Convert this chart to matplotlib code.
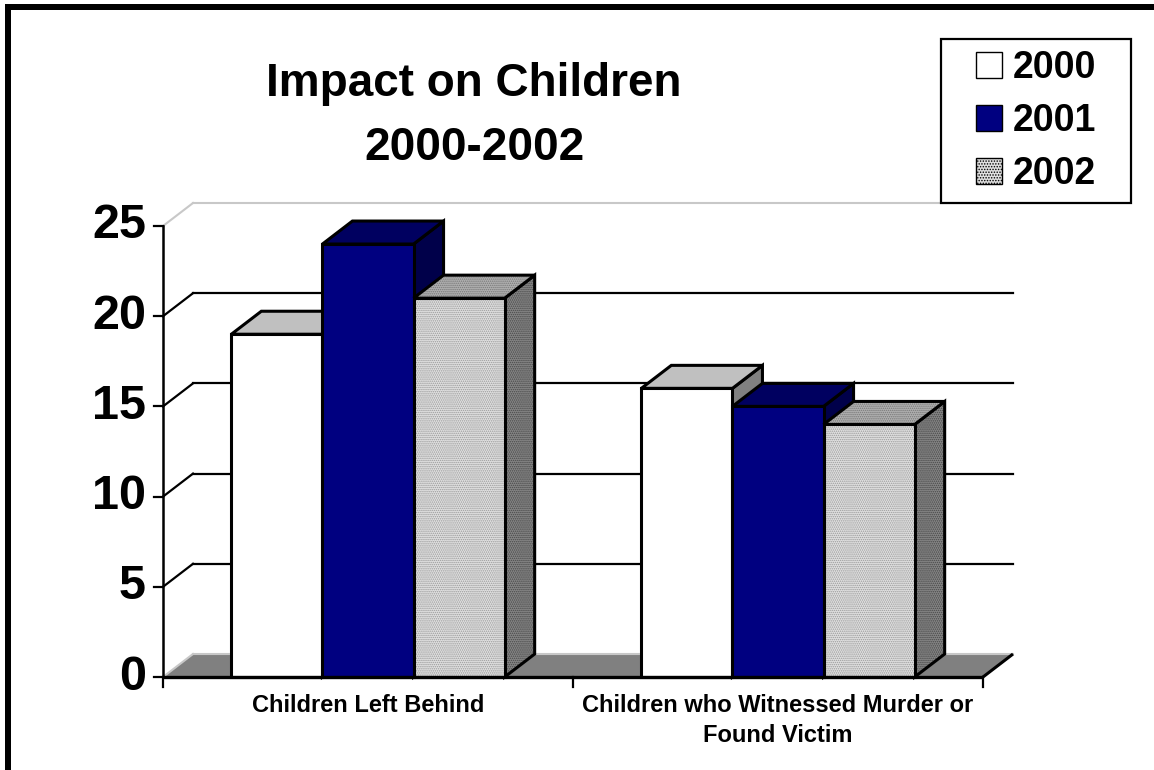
import matplotlib
matplotlib.use('Agg')
import matplotlib.pyplot as plt
from matplotlib.patches import Polygon, Rectangle, Patch

# ---------------- data ----------------
categories = ["Children Left Behind", "Children who Witnessed Murder or\nFound Victim"]
series_names = ["2000", "2001", "2002"]
values_2000 = [19, 16]
values_2001 = [24, 15]
values_2002 = [21, 14]
y_ticks = [0, 5, 10, 15, 20, 25]
title = "Impact on Children\n2000-2002"

series_values = [values_2000, values_2001, values_2002]

# ---------------- style ----------------
FONT = ['Liberation Sans', 'DejaVu Sans']
plt.rcParams['font.family'] = FONT
plt.rcParams['hatch.linewidth'] = 0.7

styles = [
    dict(front='#FFFFFF', top='#C0C0C0', side='#808080', hatch=None),
    dict(front='#000080', top='#000060', side='#00004A', hatch=None),
    dict(front='#E0E0E0', top='#B0B0B0', side='#858585', hatch='........',
         hfront='#9A9A9A', htop='#787878', hside='#484848'),
]

W, H = 1154, 770
fig = plt.figure(figsize=(W / 100, H / 100), dpi=100)

ax = fig.add_axes([163 / W, 93 / H, 850 / W, 474 / H])
ax.set_axis_off()
ymax = y_ticks[-1]
px_per_unit = 451 / ymax
DX = 30 / 410            # depth offset in category units
DY = 23 / px_per_unit    # depth offset in value units
x0, x1 = -0.5, len(categories) - 0.5
ax.set_xlim(x0, x1 + DX)
ax.set_ylim(0, ymax + DY)

EDGE = 2.2

# floor
ax.add_patch(Polygon([(x0, 0), (x1, 0), (x1 + DX, DY), (x0 + DX, DY)], closed=True,
                     fc='#808080', ec='none', zorder=1, clip_on=False))
ax.plot([x0 + DX, x1 + DX], [DY, DY], color='#C8C8C8', lw=1.5, zorder=1.2, clip_on=False)
ax.plot([x0, x0 + DX], [0, DY], color='#C8C8C8', lw=1.5, zorder=1.2, clip_on=False)
ax.plot([x1, x1 + DX], [0, DY], color='black', lw=EDGE, zorder=1.2, clip_on=False,
        solid_capstyle='butt')

# back wall gridlines + side wall diagonals
for t in y_ticks[1:]:
    c = '#C8C8C8' if t == ymax else 'black'
    lw = 1.5 if t == ymax else 1.6
    ax.plot([x0 + DX, x1 + DX], [t + DY, t + DY], color=c, lw=lw, zorder=1, clip_on=False)
    ax.plot([x0, x0 + DX], [t, t + DY], color=c, lw=lw, zorder=1, clip_on=False)

# bars
n = len(series_names)
bw = 1.0 / (n + 1.5)
z = 2
for i in range(len(categories)):
    for j in range(n):
        h = series_values[j][i]
        xl = i - n * bw / 2 + j * bw
        xr = xl + bw
        st = styles[j]
        faces = [
            ('side', [(xr, 0), (xr + DX, DY), (xr + DX, h + DY), (xr, h)]),
            ('top', [(xl, h), (xr, h), (xr + DX, h + DY), (xl + DX, h + DY)]),
            ('front', [(xl, 0), (xr, 0), (xr, h), (xl, h)]),
        ]
        for name, pts in faces:
            if st['hatch']:
                ax.add_patch(Polygon(pts, closed=True, fc=st[name], ec=st['h' + name],
                                     lw=0, hatch=st['hatch'], zorder=z, clip_on=False))
                ax.add_patch(Polygon(pts, closed=True, fc='none', ec='black', lw=EDGE,
                                     joinstyle='miter', zorder=z + 0.1, clip_on=False))
            else:
                ax.add_patch(Polygon(pts, closed=True, fc=st[name], ec='black', lw=EDGE,
                                     joinstyle='miter', zorder=z, clip_on=False))
            z += 0.2

# front axes
ax.plot([x0, x0], [0, ymax], color='black', lw=1.8, zorder=50, clip_on=False)
ax.plot([x0, x1], [0, 0], color='black', lw=2.4, zorder=50, clip_on=False,
        solid_capstyle='butt')
for t in y_ticks:
    ax.plot([x0 - 9 / 410, x0], [t, t], color='black', lw=1.6, zorder=50, clip_on=False)
    ax.text(x0 - 17 / 410, t, str(t), ha='right', va='center', fontsize=35,
            fontweight='bold', zorder=50)
for b in range(len(categories) + 1):
    xb = x0 + b
    ax.plot([xb, xb], [0, -10 / px_per_unit], color='black', lw=1.6, zorder=50, clip_on=False)
for i, cat in enumerate(categories):
    ax.text(i, -0.95, cat, ha='center', va='top', fontsize=17, fontweight='bold',
            linespacing=1.4, zorder=50)

# title
fig.text(474 / W, 1 - 116 / H, title, ha='center', va='center', fontsize=33,
         fontweight='bold', linespacing=1.6)

# legend
fig.add_artist(Rectangle((941 / W, 1 - 203 / H), 190 / W, 164 / H, transform=fig.transFigure,
                         fc='white', ec='black', lw=1.6, zorder=4))
handles = []
for st in styles:
    if st['hatch']:
        handles.append(Patch(fc=st['front'], ec='black', lw=1.0, hatch='......'))
    else:
        handles.append(Patch(fc=st['front'], ec='black', lw=1.0))
fig.legend(handles, series_names, loc='center', bbox_to_anchor=(1036 / W, 1 - 121 / H),
           frameon=False, prop=dict(family=FONT, weight='bold', size=27),
           handlelength=0.7, handleheight=0.7, handletextpad=0.3, labelspacing=0.45,
           borderpad=0, borderaxespad=0)

# outer border (top and left)
fig.add_artist(Rectangle((5 / W, 1 - 10 / H), 1 - 5 / W, 6 / H, transform=fig.transFigure,
                         fc='black', ec='none', zorder=10))
fig.add_artist(Rectangle((5 / W, 0), 6 / W, 1 - 4 / H, transform=fig.transFigure,
                         fc='black', ec='none', zorder=10))

fig.savefig('out.png', dpi=100)
